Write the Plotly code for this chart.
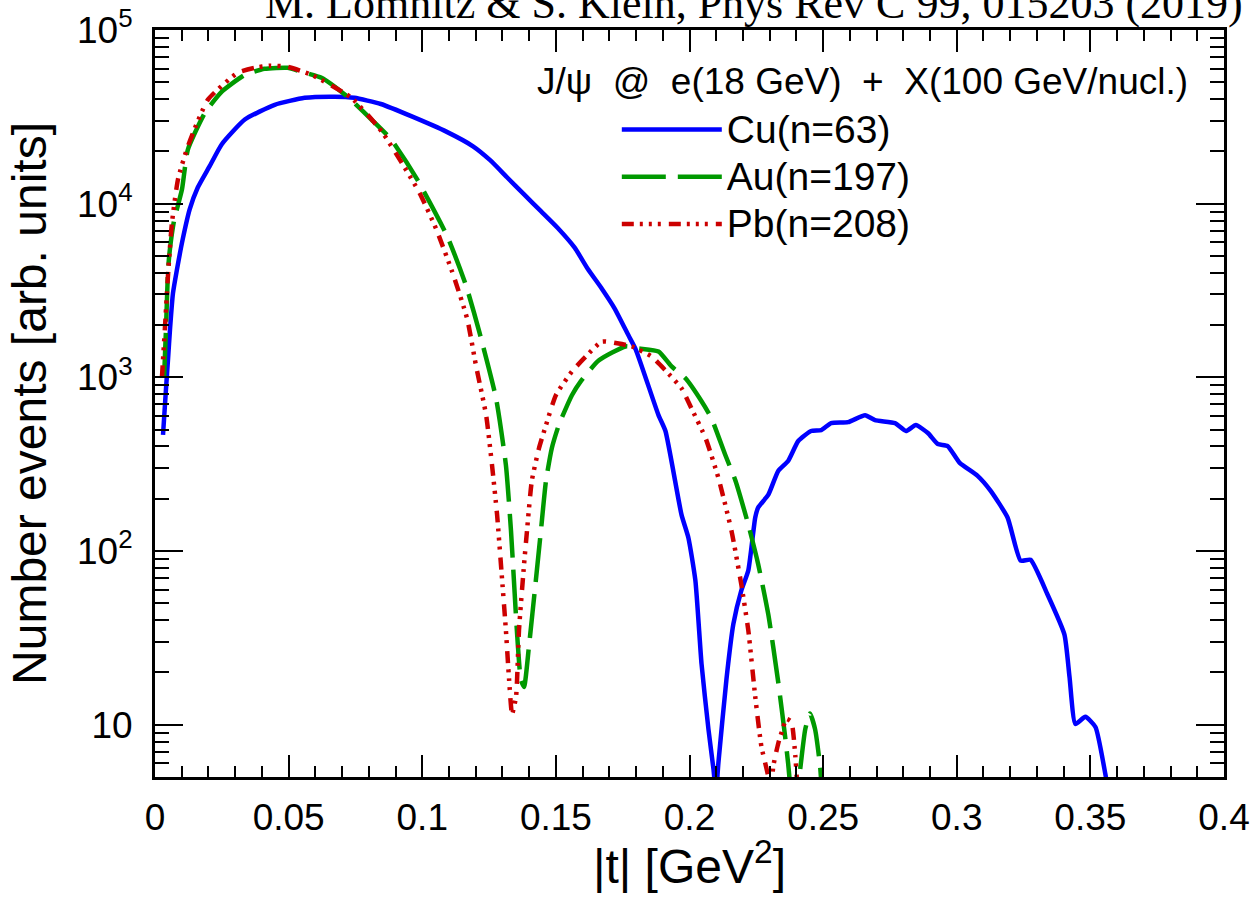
import plotly.graph_objects as go
import numpy as np

# ---------------- data ----------------
cu_t = [0.0030, 0.0041, 0.0049, 0.0056, 0.0067, 0.0086, 0.0104, 0.0130, 0.0160, 0.0205,
        0.0250, 0.0336, 0.0448, 0.0560, 0.0672, 0.0746, 0.0845, 0.0963, 0.1090, 0.1190,
        0.1254, 0.1317, 0.1381, 0.1444, 0.1507, 0.1571, 0.1619, 0.1672, 0.1720, 0.1772,
        0.1799, 0.1884, 0.1910, 0.1970, 0.1996, 0.2022, 0.2045, 0.2071, 0.2090, 0.2099,
        0.2108, 0.2138, 0.2164, 0.2194, 0.2220, 0.2246, 0.2257, 0.2295, 0.2332, 0.2369,
        0.2407, 0.2455, 0.2493, 0.2530, 0.2593, 0.2657, 0.2694, 0.2769, 0.2810, 0.2847,
        0.2892, 0.2929, 0.2966, 0.3011, 0.3078, 0.3127, 0.3190, 0.3239, 0.3276, 0.3340,
        0.3403, 0.3422, 0.3444, 0.3481, 0.3519, 0.3556, 0.3575]
cu_n = [466, 853, 1290, 1880, 3030, 4500, 6270, 9300, 12400, 16500,
        22000, 30500, 37100, 40700, 41300, 40700, 37500, 31700, 26000, 21400,
        17800, 14200, 11300, 9050, 7240, 5560, 4220, 3240, 2490, 1740,
        1446, 606, 491, 162, 119, 67.7, 22.4, 9.4, 5.5, 4.0,
        6.0, 18.1, 37.9, 59.4, 77.3, 156, 178, 211, 289, 330,
        430, 491, 497, 545, 552, 606, 567, 545, 491, 531,
        478, 413, 402, 322, 271, 222, 156, 88, 89, 56,
        33, 18.8, 10.1, 11.1, 9.7, 5.2, 3.5]

au_t = [0.0034, 0.0041, 0.0049, 0.0056, 0.0071, 0.0101, 0.0123, 0.0187, 0.0250, 0.0336,
        0.0410, 0.0496, 0.0549, 0.0623, 0.0720, 0.0810, 0.0884, 0.0981, 0.1093, 0.1164,
        0.1213, 0.1276, 0.1313, 0.1332, 0.1343, 0.1354, 0.1369, 0.1381, 0.1399, 0.1425,
        0.1444, 0.1463, 0.1485, 0.1511, 0.1560, 0.1593, 0.1660, 0.1761, 0.1810, 0.1884,
        0.1933, 0.1985, 0.2045, 0.2082, 0.2134, 0.2172, 0.2220, 0.2257, 0.2295, 0.2332,
        0.2358, 0.2369, 0.2380, 0.2395, 0.2414, 0.2433, 0.2451, 0.2470, 0.2489, 0.2500]
au_n = [1000, 1880, 4200, 5500, 7940, 12100, 20500, 33400, 44200, 55200,
        59800, 60600, 57400, 53100, 41300, 30500, 23400, 13800, 6520, 3370,
        1840, 759, 313, 131, 67.7, 35, 18.1, 16.5, 28, 67.7,
        131, 254, 392, 531, 789, 949, 1250, 1507, 1467, 1409,
        1156, 987, 728, 582, 357, 254, 142, 84, 43, 17.6,
        8.5, 6.0, 4.0, 3.0, 5.5, 9.4, 11.6, 9.4, 5.7, 3.0]

pb_t = [0.0026, 0.0037, 0.0049, 0.0063, 0.0086, 0.0123, 0.0198, 0.0310, 0.0373, 0.0429,
        0.0496, 0.0586, 0.0735, 0.0851, 0.0989, 0.1052, 0.1112, 0.1168, 0.1201, 0.1239,
        0.1261, 0.1280, 0.1299, 0.1313, 0.1325, 0.1336, 0.1351, 0.1362, 0.1381, 0.1392,
        0.1410, 0.1437, 0.1463, 0.1500, 0.1560, 0.1612, 0.1672, 0.1735, 0.1784, 0.1858,
        0.1910, 0.1970, 0.2007, 0.2060, 0.2108, 0.2157, 0.2194, 0.2220, 0.2246, 0.2269,
        0.2295, 0.2305, 0.2313, 0.2332, 0.2351, 0.2362, 0.2381, 0.2396, 0.2403]
pb_n = [1000, 1910, 3950, 7640, 13800, 21400, 39700, 56800, 60600, 62300,
        61400, 55200, 40700, 25700, 11600, 7150, 4050, 2180, 1170, 606,
        313, 162, 67.7, 35, 18.1, 11.5, 14.5, 35, 84, 131,
        254, 392, 531, 789, 1080, 1318, 1607, 1566, 1507, 1318,
        1096, 865, 664, 447, 264, 131, 64, 35, 14.5, 7.5,
        5.0, 3.5, 5.7, 7.8, 9.7, 10.8, 10.4, 6.6, 4.5]

x_ticks = [0, 0.05, 0.1, 0.15, 0.2, 0.25, 0.3, 0.35, 0.4]
y_ticks = [10, 100, 1000, 10000, 100000]
y_ticktext = ["10", "10<sup>2</sup>", "10<sup>3</sup>", "10<sup>4</sup>", "10<sup>5</sup>"]
y_minor = [m * 10 ** d for d in range(0, 5) for m in range(2, 10) if 5 <= m * 10 ** d < 1e5]

names = ["Cu(n=63)", "Au(n=197)", "Pb(n=208)"]
header = "J/ψ  @  e(18 GeV)  +  X(100 GeV/nucl.)"
citation = "M. Lomnitz & S. Klein, Phys Rev C 99, 015203 (2019)"
x_title = "|t| [GeV<sup>2</sup>]"
y_title = "Number events [arb. units]"

SANS = "Liberation Sans, Arial, Helvetica, sans-serif"
LEG_SIZE = 39

fig = go.Figure()
fig.add_trace(go.Scatter(x=cu_t, y=cu_n, mode="lines",
                         name=f"<span style='font-size:{LEG_SIZE}px'>{names[0]}</span>", legendgroup="a",
                         line=dict(color="#0000ff", width=4.5, shape="spline", smoothing=0.5)))
fig.add_trace(go.Scatter(x=au_t, y=au_n, mode="lines",
                         name=f"<span style='font-size:{LEG_SIZE}px'>{names[1]}</span>", legendgroup="b",
                         line=dict(color="#009900", width=4.5, dash="44px,12px", shape="spline", smoothing=0.5)))
fig.add_trace(go.Scatter(x=pb_t, y=pb_n, mode="lines",
                         name=f"<span style='font-size:{LEG_SIZE}px'>{names[2]}</span>", legendgroup="c",
                         line=dict(color="#cc0000", width=4.5, dash="12px,6px,3px,6px,3px,6px,3px,8px",
                                   shape="spline", smoothing=0.5)))

axis_common = dict(showline=True, linecolor="black", linewidth=3, mirror="allticks",
                   ticks="inside", tickcolor="black", tickwidth=2, showgrid=False, zeroline=False,
                   ticklabeloverflow="allow",
                   tickfont=dict(family=SANS, size=37, color="black"))

fig.update_xaxes(range=[0, 0.4], tickvals=x_ticks, ticklen=22,
                 minor=dict(dtick=0.01, tick0=0, ticks="inside", ticklen=11, tickcolor="black", tickwidth=2, showgrid=False),
                 ticklabelstandoff=6, automargin=False, **axis_common)
fig.update_yaxes(type="log", range=[np.log10(5), 5], tickvals=y_ticks, ticktext=y_ticktext, ticklen=28,
                 minor=dict(tickmode="array", tickvals=y_minor, ticks="inside", ticklen=14, tickcolor="black", tickwidth=2, showgrid=False),
                 title=dict(text=y_title, font=dict(family=SANS, size=48, color="black"), standoff=16),
                 ticklabelstandoff=12, automargin=False, **axis_common)

fig.add_annotation(text=x_title, xref="paper", yref="paper", x=0.5, y=-0.115, xanchor="center", yanchor="middle",
                   showarrow=False, font=dict(family=SANS, size=48, color="black"))
fig.add_annotation(text=citation, xref="paper", yref="paper", x=1.02, y=1.0, xanchor="right", yanchor="bottom",
                   showarrow=False, font=dict(family="Liberation Serif, Times New Roman, serif", size=44, color="black"))
fig.add_annotation(text=header, xref="paper", yref="paper", x=0.968, y=0.931, xanchor="right", yanchor="middle",
                   showarrow=False, font=dict(family=SANS, size=37, color="black"))

fig.update_layout(
    width=1251, height=897,
    margin=dict(l=155, r=27, t=30, b=120),
    paper_bgcolor="white", plot_bgcolor="white",
    legend=dict(x=0.432, y=0.905, xanchor="left", yanchor="top", bgcolor="rgba(0,0,0,0)",
                font=dict(family=SANS, size=34, color="black"), itemwidth=100, tracegroupgap=0),
    showlegend=True,
)

fig.write_html("out.html", config={"displayModeBar": False},
               post_script="document.body.style.margin='0px';")
